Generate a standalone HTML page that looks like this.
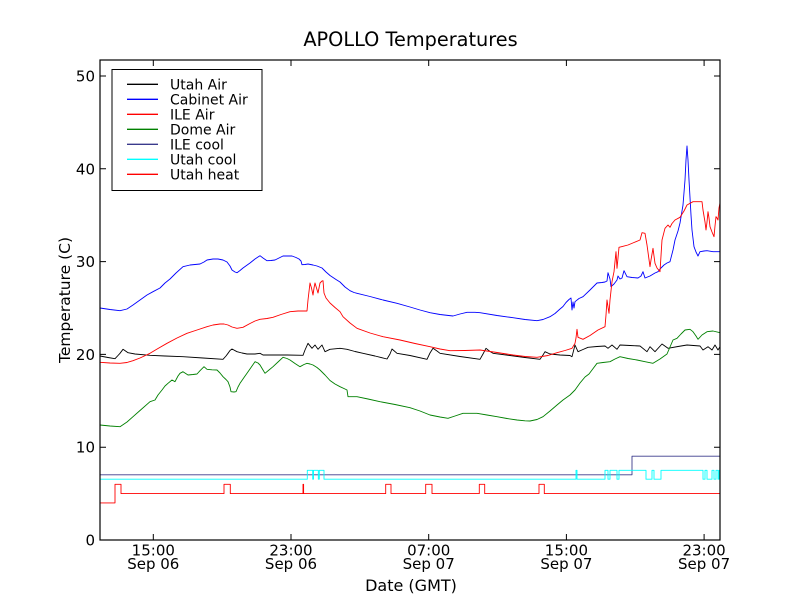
<!DOCTYPE html>
<html><head><meta charset="utf-8"><style>
html,body{margin:0;padding:0;background:#fff;}
svg{display:block;font-family:"DejaVu Sans","Liberation Sans",sans-serif;}
</style></head><body>
<svg width="800" height="600" viewBox="0 0 800 600" xmlns="http://www.w3.org/2000/svg">
<rect x="0" y="0" width="800" height="600" fill="#fff"/>
<text x="410.5" y="46" font-size="19.3" text-anchor="middle" fill="#000">APOLLO Temperatures</text>
<g fill="none" stroke-width="0.9" stroke-linejoin="round">
<polyline stroke="#000" points="100,356 108,357.5 115,358.7 118,355.5 120,353.3 123,349.3 128,352.7 135,354 150,355.3 165,356 183,356.7 203,358 223,359.3 226,356 228,353.3 230,350.5 232,349 237,351.7 242,353 247,354 255,354 260,353.3 263,355 275,355 287,355 303,355.3 305,350 308,343.3 312,348.3 315,345 318,349.3 322,345 325,351.7 330,349.3 340,348.3 347,349.3 355,351.5 363,353.3 375,356 387,359 390,354 392,349 397,353.3 410,355.5 427,359.3 430,353 433,348.3 437,351 440,353.3 460,356.5 480,359.3 483,354 486,348.3 490,351.5 493,353.3 510,355.5 525,357.5 540,359.3 543,355 545,351.7 550,354 560,355 570,355.5 572,356.7 575,345 578,351.7 583,349.5 588,347.3 597,346.5 605,346 608,348.3 612,345 617,349.3 620,345 630,345.5 640,346 647,351.7 650,346.7 655,351.7 662,344 668,348.3 678,346.5 687,345 700,346 703,350 708,346.7 712,350 715,345 718,350 720,346.7"/>
<polyline stroke="#0000ff" points="100,308 110,309.5 120,310.7 127,309 133,305 140,300 147,295 153,291.7 160,288 165,283 170,279 176,273 183,266.7 190,265 200,264 204,262 207,260 213,259 218,259 223,260 227,262 230,266 232,270 235,272 237,272.7 240,270.5 243,268 250,263 255,259 258,257 260,255.7 263,258 267,260.7 271,260.5 275,260 279,258 283,256 288,256 292,256 296,257.5 299,259 301,261 302,264.7 305,264.5 308,264 313,265 317,266 322,268 326,272 330,275.5 336,279.5 340,282 345,287 350,290.7 354,292.5 357,293.3 370,296.5 383,300 397,303.3 410,307 420,310 430,312.7 440,314.5 453,316 460,314 467,312.3 475,312.3 480,312.7 497,315.5 513,317.7 525,319.5 537,320.7 543,319.5 550,316.7 555,313.5 560,309 563,306.5 566,302.5 569,299.5 571,298 572,310 573,302 574,308 575,301.7 579,298.5 583,296.7 590,290 597,283 602,282.5 605,282 607,281 608,272.7 610,279 611,286.7 614,284 617,280 618,276 620,279 622,278 624,270.7 627,276.7 632,277.5 638,278 641,276 643,271.7 645,278 650,276 655,273 658,271.7 661,268 664,265 667,263 670,261.7 673,250 675,240 678,231 680,223 683,205 685,180 686,160 687,146 688,160 689,180 691,215 692,230 694,246.7 696,252 698,256 700,251.7 704,251 707,250.7 713,251.7 720,251.7"/>
<polyline stroke="#ff0000" points="100,362.3 110,363 120,363.3 127,362.5 133,360.7 140,358 150,353.3 158,348.5 167,343.3 177,338 187,333.3 197,330 207,326.7 213,325 220,324 224,324 228,325 232,327 237,328.3 243,327.3 250,323.5 255,321 260,319.3 267,318.5 273,317.3 281,314.5 290,311.7 298,311 307,311 308,300 310,283 311.5,288 313,295 314,288 315,283 316.5,288 318,293 319,288 320,283 322,281 323,280.7 324,293 326,298 330,303 335,307.5 340,311.7 343,316.7 350,323 357,328.3 370,333 383,336.7 400,340 415,343.5 430,346.7 440,349 450,350.7 465,350.5 480,350 497,352.5 513,355 525,356.5 537,357.3 548,355.5 557,352.7 565,350.5 572,348.3 575,343.3 576,338 577,329.3 578,337.3 583,339.3 590,335.5 598,330 605,326.7 606,315 607,300 608,307 609,313.3 610,300 612,281.7 614,271.7 616,251.7 617,268.3 618,258 619,247.3 623,246.3 628,245 634,242.5 640,240 642,232.7 645,233.3 647,245 650,266.7 651,260 653,248.3 654,256 655,263.3 657,268 660,271.7 662,240 665,228.3 668,225 670,227.3 672,223.5 675,220 680,217.3 684,211 687,205 693,201.7 698,201.7 702,201.7 703,210 705,222 706,230 707,222 708,211.7 709,218 710,226.7 712,232 714,236.7 715,226 716,216.7 717,218 718,220 719,208 720,203"/>
<polyline stroke="#008000" points="100,425 110,426 120,426.7 127,422 133,416.7 140,410.5 150,401.7 155,400 158,395 162,390 165,386 168,383.3 172,380 175,381.7 178,376 180,373.3 183,371.7 188,375 193,374.5 197,374 200,370.7 204,366.7 207,369.3 212,369.8 217,370 220,373 223,376.7 226,379.5 228,381.7 230,387 231,391.7 234,392 236,391.7 238,387 240,383.3 244,377.5 247,373.3 251,367.5 255,361.7 258,363 260,365 263,370 265,373.3 269,370 273,366.7 278,362 283,357.3 287,358.5 290,360 295,363.5 300,366.7 304,364.5 307,363.3 310,364 313,365 317,367.5 320,370 325,375 330,380.5 335,384 340,386.7 345,389 347,390 348,396.7 357,396.7 368,399 380,401.7 395,404.5 410,407.7 420,411 430,415 440,417 448,418.3 455,416 463,413.3 470,413.3 477,413.3 487,415 497,416.7 507,418.5 517,420 525,420.8 530,421 537,419.5 543,416.7 550,411 557,405 563,400 570,395 575,390 580,383 585,377 589,374 592,370 597,363.3 603,362.5 610,361.7 615,359 620,356.7 628,358.5 637,360 645,361.7 653,363.3 660,359 667,354 670,347 673,340 677,338.3 681,334 685,330 690,329.3 693,331.7 696,336 698,339.3 702,335 707,331.7 713,331 720,332.7"/>
<path stroke="#3a3a8c" d="M100,474.8 H632 V456.2 H720"/>
<path stroke="#00ffff" d="M100,479.2 H307.3 V470.3 H312.7 V479.2 H313.5 V470.3 H318.3 V479.2 H319.3 V470.3 H324 V479.2 H576 V470.3 H577 V479.2 H605 V470.3 H608 V479.2 H610 V470.3 H617 V479.2 H619 V470.3 H646 V479.2 H652 V470.3 H654 V479.2 H661 V470.3 H703 V479.2 H705 V470.3 H707 V479.2 H712 V470.3 H714 V479.2 H716 V470.3 H718 V479.2 H719 V470.3 H720"/>
<path stroke="#ff0000" d="M100,502.9 H115 V484.3 H121 V493.6 H224 V484.3 H230.3 V493.6 H303 V484.3 H303.6 V493.6 H385.7 V484.3 H391 V493.6 H425.7 V484.3 H432 V493.6 H479.3 V484.3 H484.7 V493.6 H539 V484.3 H544.3 V493.6 H720"/>
</g>
<rect x="100" y="60" width="620" height="480" fill="none" stroke="#000" stroke-width="1.2"/>
<g stroke="#000" stroke-width="1">
<path d="M100,447.2 h6 M100,354.4 h6 M100,261.6 h6 M100,168.8 h6 M100,76 h6 M720,447.2 h-6 M720,354.4 h-6 M720,261.6 h-6 M720,168.8 h-6 M720,76 h-6"/>
<path d="M153.3,540 v-6 M291,540 v-6 M428.7,540 v-6 M566.4,540 v-6 M704.1,540 v-6 M153.3,60 v6 M291,60 v6 M428.7,60 v6 M566.4,60 v6 M704.1,60 v6"/>
</g>
<g font-size="15" fill="#000" text-anchor="end">
<text x="95" y="545.5">0</text>
<text x="95" y="452.7">10</text>
<text x="95" y="359.9">20</text>
<text x="95" y="267.1">30</text>
<text x="95" y="174.3">40</text>
<text x="95" y="81.5">50</text>
</g>
<g font-size="15" fill="#000" text-anchor="middle">
<text x="153.3" y="555.7">15:00</text><text x="153.3" y="569">Sep 06</text>
<text x="291" y="555.7">23:00</text><text x="291" y="569">Sep 06</text>
<text x="428.7" y="555.7">07:00</text><text x="428.7" y="569">Sep 07</text>
<text x="566.4" y="555.7">15:00</text><text x="566.4" y="569">Sep 07</text>
<text x="704.1" y="555.7">23:00</text><text x="704.1" y="569">Sep 07</text>
</g>
<text x="411" y="591" font-size="16" text-anchor="middle" fill="#000">Date (GMT)</text>
<text transform="translate(70,300) rotate(-90)" font-size="15.5" text-anchor="middle" fill="#000">Temperature (C)</text>
<rect x="112" y="69.5" width="150" height="121" fill="#fff" stroke="#000" stroke-width="1"/>
<g stroke-width="1.3">
<line x1="127" y1="84.3" x2="158" y2="84.3" stroke="#000"/>
<line x1="127" y1="99.3" x2="158" y2="99.3" stroke="#0000ff"/>
<line x1="127" y1="114.3" x2="158" y2="114.3" stroke="#ff0000"/>
<line x1="127" y1="129.3" x2="158" y2="129.3" stroke="#008000"/>
<line x1="127" y1="144.3" x2="158" y2="144.3" stroke="#3a3a8c"/>
<line x1="127" y1="159.3" x2="158" y2="159.3" stroke="#00ffff"/>
<line x1="127" y1="174.3" x2="158" y2="174.3" stroke="#ff0000"/>
</g>
<g font-size="14" fill="#000">
<text x="170" y="89.3">Utah Air</text>
<text x="170" y="104.3">Cabinet Air</text>
<text x="170" y="119.3">ILE Air</text>
<text x="170" y="134.3">Dome Air</text>
<text x="170" y="149.3">ILE cool</text>
<text x="170" y="164.5">Utah cool</text>
<text x="170" y="179.3">Utah heat</text>
</g>
</svg>
</body></html>
